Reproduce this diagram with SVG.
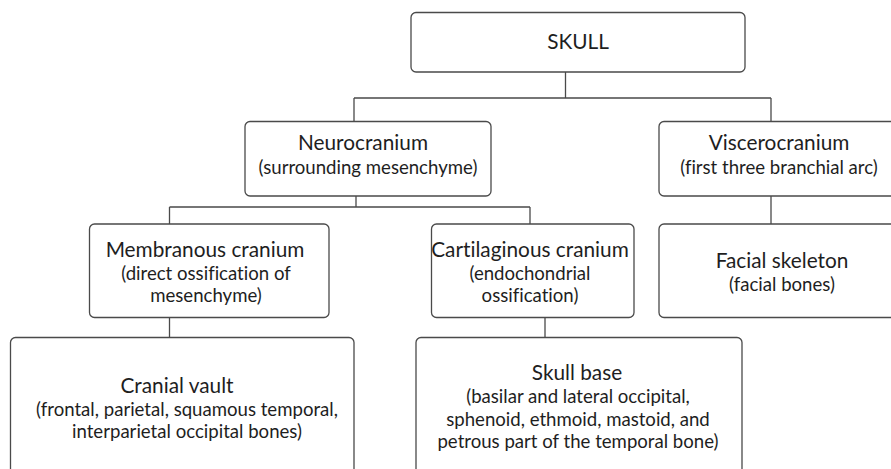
<svg xmlns="http://www.w3.org/2000/svg" width="891" height="469" viewBox="0 0 891 469">
<style>
.box{fill:#fff;stroke:#4a4a4a;stroke-width:1.3}
.ln{fill:none;stroke:#4a4a4a;stroke-width:1.3}
text{font-family:Lato,"Open Sans",sans-serif;fill:#1e1e1e;text-anchor:middle;font-variant-ligatures:none;font-feature-settings:"liga" 0,"clig" 0}
.t{font-size:20.8px}
.s{font-size:18.6px}
</style>
<rect width="891" height="469" fill="#fff"/>
<g id="connectors">
<path class="ln" d="M565.5,72 V98 M354,98 H771 M354,98 V122 M771,98 V122"/>
<path class="ln" d="M356,196 V207 M169.5,207 H530 M169.5,207 V224 M530,207 V224"/>
<path class="ln" d="M169.5,317 V337.5"/>
<path class="ln" d="M545,317 V337.5"/>
<path class="ln" d="M771,196 V224"/>
</g>
<g id="skull">
<rect class="box" x="411" y="12.5" width="334" height="59.5" rx="5"/>
<text class="t" x="578" y="49">SKULL</text>
</g>
<g id="neurocranium">
<rect class="box" x="245" y="121.5" width="246" height="74.5" rx="5"/>
<text class="t" x="363" y="150">Neurocranium</text>
<text class="s" x="368" y="174">(surrounding mesenchyme)</text>
</g>
<g id="viscerocranium">
<rect class="box" x="659" y="121.5" width="250" height="74.5" rx="5"/>
<text class="t" x="779" y="150">Viscerocranium</text>
<text class="s" x="779" y="174">(first three branchial arc)</text>
</g>
<g id="membranous">
<rect class="box" x="89.5" y="224" width="239.5" height="93.5" rx="5"/>
<text class="t" x="205" y="256.5">Membranous cranium</text>
<text class="s" x="206" y="279.5">(direct ossification of</text>
<text class="s" x="206" y="302">mesenchyme)</text>
</g>
<g id="cartilaginous">
<rect class="box" x="431.5" y="224" width="202.5" height="93.5" rx="5"/>
<text class="t" x="530" y="256.5">Cartilaginous cranium</text>
<text class="s" x="530" y="279.5">(endochondrial</text>
<text class="s" x="530" y="302">ossification)</text>
</g>
<g id="facial">
<rect class="box" x="659" y="224" width="250" height="93.5" rx="5"/>
<text class="t" x="782" y="268">Facial skeleton</text>
<text class="s" x="782" y="291">(facial bones)</text>
</g>
<g id="cranial-vault">
<rect class="box" x="10.5" y="337.5" width="343.5" height="150" rx="5"/>
<text class="t" x="177" y="392.5">Cranial vault</text>
<text class="s" x="187" y="415.5">(frontal, parietal, squamous temporal,</text>
<text class="s" x="187" y="438">interparietal occipital bones)</text>
</g>
<g id="skull-base">
<rect class="box" x="416" y="337.5" width="326" height="150" rx="5"/>
<text class="t" x="577" y="380">Skull base</text>
<text class="s" x="578" y="403">(basilar and lateral occipital,</text>
<text class="s" x="578" y="425.5">sphenoid, ethmoid, mastoid, and</text>
<text class="s" x="578" y="448">petrous part of the temporal bone)</text>
</g>
</svg>
